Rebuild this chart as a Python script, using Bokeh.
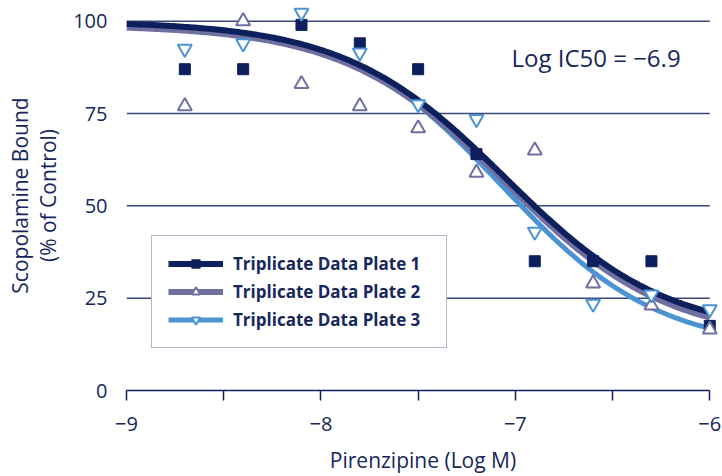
import numpy as np
from bokeh.plotting import figure
from bokeh.models import (Range1d, FixedTicker, Legend, LegendItem, Label)
from bokeh.embed import file_html
from bokeh.resources import INLINE

# ---- data ----
log_conc = [-8.7, -8.4, -8.1, -7.8, -7.5, -7.2, -6.9, -6.6, -6.3, -6.0]
plate1 = [87, 87, 99, 94, 87, 64, 35, 35, 35, 17.5]
plate2 = [77, 100, 83, 77, 71, 59, 65, 29, 23, 16.5]
plate3 = [92.5, 94, 102.3, 91.5, 77.5, 73.5, 43, 23.5, 26, 22]

series_names = ["Triplicate Data Plate 1", "Triplicate Data Plate 2", "Triplicate Data Plate 3"]
# fitted 4-parameter logistic curves (top, bottom, log IC50, Hill slope) per plate
fit_top = [100.0, 99.0, 100.0]
fit_bottom = [15.0, 13.5, 11.0]
fit_logic50 = [-7.05, -7.05, -7.07]
fit_hill = [1.05, 1.05, 1.08]

x_ticks = [-9, -8, -7, -6]
x_minor_ticks = [-8.5, -7.5, -6.5]
x_tick_labels = ["\u22129", "\u22128", "\u22127", "\u22126"]
y_ticks = [0, 25, 50, 75, 100]
grid_levels = [25, 50, 75, 100]
annotation = "Log IC50 = \u22126.9"

NAVY = "#0d1f5c"
GREY = "#6f70a0"
LBLUE = "#4b93d3"
TEXT = "#17275c"
FONT = "Open Sans"

p = figure(width=722, height=476, output_backend="svg", toolbar_location=None,
           x_range=Range1d(-9, -5.95), y_range=Range1d(0, 105.6),
           min_border_left=126, min_border_right=3, min_border_top=0, min_border_bottom=86)
p.outline_line_color = None
p.xgrid.visible = False
p.ygrid.visible = False
p.background_fill_color = "white"

# horizontal grid lines spanning the x axis extent
p.segment(x0=[x_ticks[0]] * len(grid_levels), x1=[x_ticks[-1]] * len(grid_levels),
          y0=grid_levels, y1=grid_levels, line_color="#3a4876", line_width=1.5)

# fitted curves
xs = np.linspace(x_ticks[0], x_ticks[-1], 241)
curve_colors = [NAVY, GREY, LBLUE]
curve_widths = [6, 6, 5]
curves = []
for i in range(3):
    ys = fit_bottom[i] + (fit_top[i] - fit_bottom[i]) / (1 + 10 ** (fit_hill[i] * (xs - fit_logic50[i])))
    curves.append((xs, ys))
line_renderers = [None, None, None]
for i in [2, 1, 0]:
    line_renderers[i] = p.line(curves[i][0], curves[i][1], line_color=curve_colors[i],
                               line_width=curve_widths[i])

# data points
s1 = p.scatter(log_conc, plate1, marker="square", size=11, fill_color=NAVY, line_color=NAVY)
s2 = p.scatter(log_conc, plate2, marker="triangle", size=14, fill_color="white",
               line_color=GREY, line_width=2)
s3 = p.scatter(log_conc, plate3, marker="inverted_triangle", size=14, fill_color="white",
               line_color=LBLUE, line_width=2)

# axes
xa = p.xaxis[0]
xa.ticker = FixedTicker(ticks=x_ticks, minor_ticks=x_minor_ticks)
xa.bounds = (x_ticks[0], x_ticks[-1])
xa.major_label_overrides = {t: lab for t, lab in zip(x_ticks, x_tick_labels)}
xa.axis_line_color = NAVY
xa.axis_line_width = 1.5
xa.major_tick_line_color = NAVY
xa.minor_tick_line_color = NAVY
xa.major_tick_line_width = 1.5
xa.minor_tick_line_width = 1.5
xa.major_tick_in = 0
xa.major_tick_out = 10
xa.minor_tick_in = 0
xa.minor_tick_out = 10
xa.major_label_standoff = 16
xa.major_label_text_font = FONT
xa.major_label_text_font_size = "20px"
xa.major_label_text_color = TEXT
xa.axis_label = "Pirenzipine (Log M)"
xa.axis_label_text_font = FONT
xa.axis_label_text_font_size = "21px"
xa.axis_label_text_font_style = "normal"
xa.axis_label_text_color = TEXT
xa.axis_label_text_line_height = 0.9
xa.axis_label_standoff = 12

ya = p.yaxis[0]
ya.ticker = FixedTicker(ticks=y_ticks)
ya.axis_line_color = None
ya.major_tick_line_color = None
ya.minor_tick_line_color = None
ya.major_label_standoff = 13
ya.major_label_text_font = FONT
ya.major_label_text_font_size = "20px"
ya.major_label_text_color = TEXT
ya.axis_label = "Scopolamine Bound\n(% of Control)"
ya.axis_label_text_font = FONT
ya.axis_label_text_font_size = "21px"
ya.axis_label_text_font_style = "normal"
ya.axis_label_text_color = TEXT
ya.axis_label_text_line_height = 1.0
ya.axis_label_standoff = 8

# annotation
p.add_layout(Label(x=-7.02, y=90.2, text=annotation, text_font=FONT, text_font_size="24px",
                   text_color=TEXT, text_baseline="middle", text_align="left"))

# legend
items = [LegendItem(label=series_names[0], renderers=[line_renderers[0], s1]),
         LegendItem(label=series_names[1], renderers=[line_renderers[1], s2]),
         LegendItem(label=series_names[2], renderers=[line_renderers[2], s3])]
legend = Legend(items=items, location=(25, 42), glyph_width=55, glyph_height=21,
                label_standoff=10, label_width=197, spacing=5, padding=16, margin=0,
                label_text_font=FONT, label_text_font_style="bold",
                label_text_font_size="17px", label_text_color=TEXT,
                border_line_color="#6a7098", border_line_width=1.5,
                background_fill_color="white", background_fill_alpha=1.0)
p.add_layout(legend, "center")

open("out.html", "w").write(file_html(p, INLINE))
